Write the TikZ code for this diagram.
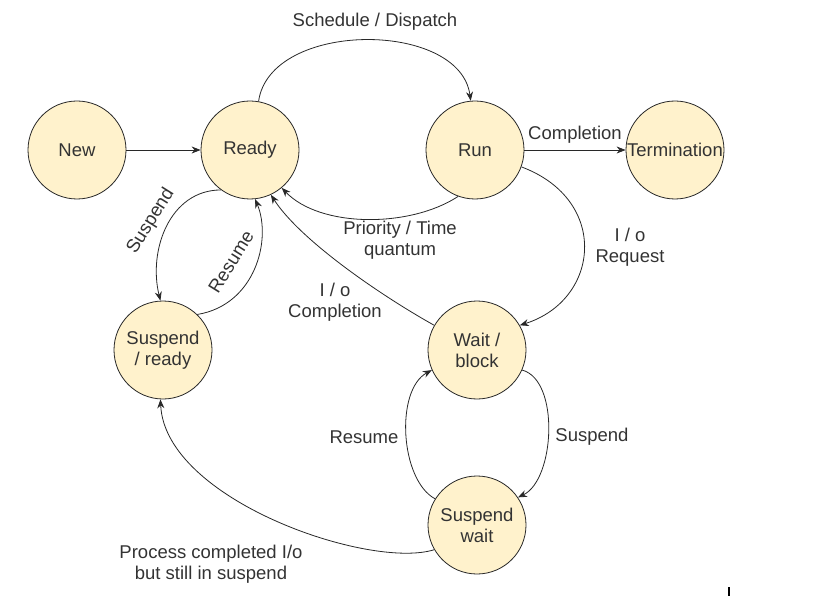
\documentclass[tikz,border=0pt]{standalone}
\usepackage{fontspec}
\setmainfont{Liberation Sans}
\usetikzlibrary{arrows.meta}
\definecolor{stfill}{RGB}{255,242,204}
\definecolor{stline}{RGB}{40,40,40}
\definecolor{txt}{RGB}{51,51,51}
\begin{document}
\begin{tikzpicture}[x=1pt,y=-1pt,
  state/.style={circle,draw=stline,fill=stfill,line width=0.8pt,minimum size=98pt,inner sep=0pt,align=center,text=txt,font=\fontsize{18.5}{21}\selectfont},
  lbl/.style={text=txt,align=center,font=\fontsize{18.5}{21}\selectfont,inner sep=0pt},
  edge/.style={draw=stline,line width=0.8pt,-{Stealth[length=9pt,width=7pt]}}]
\useasboundingbox (0,0) rectangle (814,596);
\node[state] (new) at (77,150) {New};
\node[state] (ready) at (250,150) {Ready};
\node[state] (run) at (475,150) {Run};
\node[state] (term) at (675,150) {Termination};
\node[state] (suspr) at (163,350) {Suspend\\/ ready};
\node[state] (wait) at (477,350) {Wait /\\block};
\node[state] (suspw) at (477,525) {Suspend\\wait};

\draw[edge] (new) -- (ready);
\draw[edge] (run) -- (term);
\draw[edge] (ready.80) .. controls (270,20) and (460,20) .. (run.95);
\draw[edge] (run.250) .. controls (410,228) and (320,228) .. (ready.-50);
\draw[edge] (run.-20) .. controls (610,200) and (600,300) .. (wait.30);
\draw[edge] (wait.150) .. controls (380,295) and (300,240) .. (ready.-65);
\draw[edge] (ready.234) .. controls (170,190) and (148,250) .. (suspr.93);
\draw[edge] (suspr.46) .. controls (255,305) and (272,240) .. (ready.-84);
\draw[edge] (wait.-24) .. controls (560,380) and (555,480) .. (suspw.34);
\draw[edge] (suspw.148) .. controls (400,480) and (395,390) .. (wait.204);
\draw[edge] (suspw.210) .. controls (370,570) and (165,500) .. (suspr.-93);

\node[lbl] (l1) at (375,22) {Schedule / Dispatch};
\node[lbl] (l2) at (575,135) {Completion};
\node[lbl] (l3) at (400,240) {Priority / Time\\quantum};
\node[lbl] (l4) at (630,247) {I / o\\Request};
\node[lbl] (l5) at (335,302) {I / o\\Completion};
\node[lbl] (l6) at (364,437) {Resume};
\node[lbl] (l7) at (592,437) {Suspend};
\node[lbl] (l8) at (211,564) {Process completed I/o\\but still in suspend};
\node[lbl,rotate=58] (l9) at (151,221) {Suspend};
\node[lbl,rotate=58] (l10) at (231,262) {Resume};

\draw[black,line width=2pt] (729,587) -- (729,596);
\end{tikzpicture}
\end{document}
